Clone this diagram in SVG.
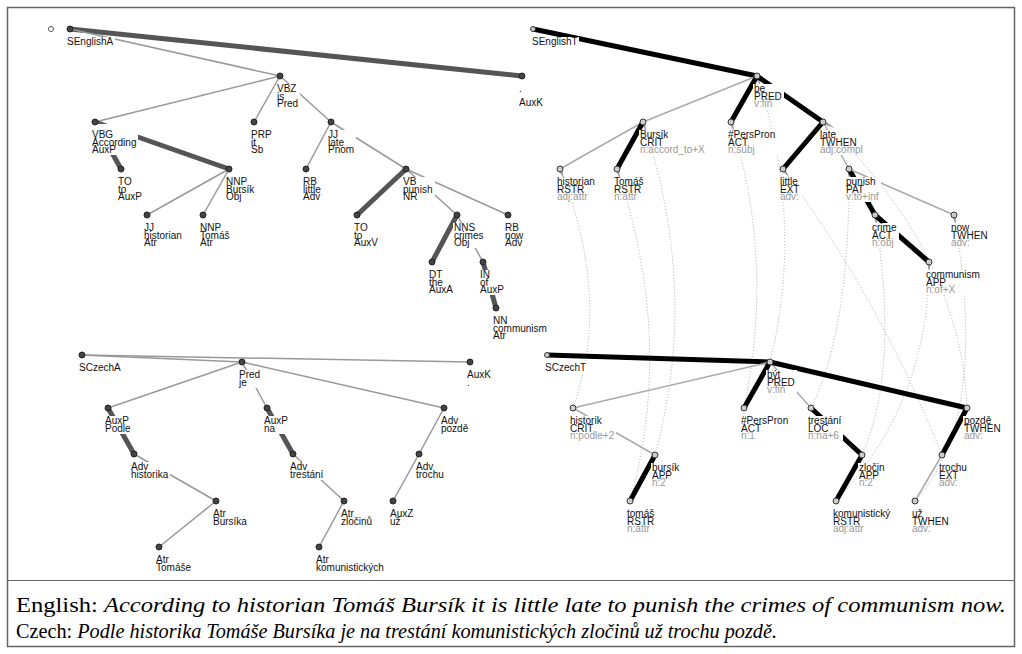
<svg xmlns="http://www.w3.org/2000/svg" width="1022" height="654" viewBox="0 0 1022 654">
<style>
.ae{stroke:#999;stroke-width:1.5;fill:none}
.aet{stroke:#555;stroke-width:5;fill:none}
.te{stroke:#aaa;stroke-width:1.5;fill:none}
.tet{stroke:#000;stroke-width:5;fill:none}
.al{stroke:#aaa;stroke-width:1;stroke-dasharray:1 2;fill:none}
.w{fill:#999}
.an{fill:#444;stroke:#222;stroke-width:1}
.tn{fill:#ccc;stroke:#333;stroke-width:1}
.bg{fill:#fff}
.l{font-family:"Liberation Sans",Arial,sans-serif;font-size:10px;fill:#111}
.g{fill:#999}
.cap{font-family:"Liberation Serif","Times New Roman",serif;font-size:20px;fill:#000}
</style>
<rect x="7.5" y="7.5" width="1007" height="639" fill="#fff" stroke="#666" stroke-width="1.5"/>
<line x1="7.5" y1="580.5" x2="1014.5" y2="580.5" stroke="#666" stroke-width="1"/>
<g id="connectors">
<!-- alignment -->
<path class="al" d="M560,169 Q612,300 573,408"/>
<path class="al" d="M617,169 Q675,340 630,501"/>
<path class="al" d="M643,122 Q700,290 655,455"/>
<path class="al" d="M731,122 Q775,260 744,408"/>
<path class="al" d="M757,76 Q805,220 770,362"/>
<path class="al" d="M783,169 Q880,300 942,455"/>
<path class="al" d="M823,122 Q960,250 967,408"/>
<path class="al" d="M849,169 Q850,330 811,408"/>
<path class="al" d="M875,215 Q900,370 862,455"/>
<path class="al" d="M929,262 Q930,400 836,501"/>
<path class="al" d="M954,215 Q990,420 915,501"/>
<polygon class="w" points="561.9,168.3 558.1,169.7 563.7,178.3"/>
<polygon class="w" points="618.9,168.4 615.1,169.6 620.2,178.5"/>
<polygon class="w" points="644.9,121.4 641.1,122.6 646.2,131.5"/>
<polygon class="w" points="732.9,121.4 729.1,122.6 734,131.5"/>
<polygon class="w" points="758.9,75.4 755.1,76.6 760.2,85.5"/>
<polygon class="w" points="784.6,167.8 781.4,170.2 789,177"/>
<polygon class="w" points="823.9,120.2 822.1,123.8 834.7,127.9"/>
<polygon class="w" points="851,169 847,169 849,179"/>
<polygon class="w" points="877,214.7 873,215.3 876.6,224.9"/>
<polygon class="w" points="931,262 927,262 929,272"/>
<polygon class="w" points="956,214.7 952,215.3 955.7,224.8"/>
<!-- English a-tree -->
<line class="aet" x1="70" y1="29" x2="522" y2="76"/>
<line class="ae" x1="70" y1="29" x2="280" y2="76"/>
<line class="ae" x1="280" y1="76" x2="95" y2="122"/>
<line class="ae" x1="280" y1="76" x2="254" y2="122"/>
<line class="ae" x1="280" y1="76" x2="331" y2="122"/>
<line class="aet" x1="95" y1="122" x2="121" y2="169"/>
<line class="aet" x1="95" y1="122" x2="229" y2="169"/>
<line class="ae" x1="229" y1="169" x2="147" y2="215"/>
<line class="ae" x1="229" y1="169" x2="203" y2="215"/>
<line class="ae" x1="331" y1="122" x2="306" y2="169"/>
<line class="ae" x1="331" y1="122" x2="406" y2="169"/>
<line class="aet" x1="406" y1="169" x2="357" y2="215"/>
<line class="ae" x1="406" y1="169" x2="457" y2="215"/>
<line class="ae" x1="406" y1="169" x2="508" y2="215"/>
<line class="aet" x1="457" y1="215" x2="432" y2="262"/>
<line class="ae" x1="457" y1="215" x2="483" y2="262"/>
<line class="aet" x1="483" y1="262" x2="496" y2="308"/>
<!-- Czech a-tree -->
<line class="ae" x1="82" y1="355" x2="242" y2="362"/>
<line class="ae" x1="82" y1="355" x2="470" y2="362"/>
<line class="ae" x1="242" y1="362" x2="108" y2="408"/>
<line class="ae" x1="242" y1="362" x2="267" y2="408"/>
<line class="ae" x1="242" y1="362" x2="444" y2="408"/>
<line class="aet" x1="108" y1="408" x2="134" y2="454"/>
<line class="ae" x1="134" y1="454" x2="216" y2="501"/>
<line class="ae" x1="216" y1="501" x2="159" y2="547"/>
<line class="aet" x1="267" y1="408" x2="293" y2="454"/>
<line class="ae" x1="293" y1="454" x2="344" y2="501"/>
<line class="ae" x1="344" y1="501" x2="319" y2="547"/>
<line class="ae" x1="444" y1="408" x2="419" y2="454"/>
<line class="ae" x1="419" y1="454" x2="393" y2="501"/>
<!-- English t-tree -->
<line class="tet" x1="533" y1="29" x2="757" y2="76"/>
<line class="te" x1="757" y1="76" x2="643" y2="122"/>
<line class="tet" x1="757" y1="76" x2="731" y2="122"/>
<line class="tet" x1="757" y1="76" x2="823" y2="122"/>
<line class="te" x1="643" y1="122" x2="560" y2="169"/>
<line class="tet" x1="643" y1="122" x2="617" y2="169"/>
<line class="tet" x1="823" y1="122" x2="783" y2="169"/>
<line class="te" x1="823" y1="122" x2="849" y2="169"/>
<line class="tet" x1="849" y1="169" x2="875" y2="215"/>
<line class="te" x1="849" y1="169" x2="954" y2="215"/>
<line class="tet" x1="875" y1="215" x2="929" y2="262"/>
<!-- Czech t-tree -->
<line class="tet" x1="547" y1="355" x2="770" y2="362"/>
<line class="te" x1="770" y1="362" x2="573" y2="408"/>
<line class="tet" x1="770" y1="362" x2="744" y2="408"/>
<line class="te" x1="770" y1="362" x2="811" y2="408"/>
<line class="tet" x1="770" y1="362" x2="967" y2="408"/>
<line class="te" x1="573" y1="408" x2="655" y2="455"/>
<line class="tet" x1="655" y1="455" x2="630" y2="501"/>
<line class="tet" x1="811" y1="408" x2="862" y2="455"/>
<line class="tet" x1="862" y1="455" x2="836" y2="501"/>
<line class="tet" x1="967" y1="408" x2="942" y2="455"/>
<line class="te" x1="942" y1="455" x2="915" y2="501"/>
</g>

<!-- English a-tree nodes -->
<g id="a-root"><circle cx="51" cy="29" r="2.5" fill="#fff" stroke="#555" stroke-width="1"/></g>
<g id="a-SEnglishA"><rect class="bg" x="66" y="37" width="49" height="11"/><circle class="an" cx="70" cy="29" r="3"/><text class="l" x="67" y="45">SEnglishA</text></g>
<g id="a-VBZ"><rect class="bg" x="276" y="84" width="24" height="25"/><circle class="an" cx="280" cy="76" r="3"/><text class="l" x="277" y="92">VBZ<tspan x="277" y="99.5">is</tspan><tspan x="277" y="107">Pred</tspan></text></g>
<g id="a-PRP"><rect class="bg" x="250" y="130" width="24" height="25"/><circle class="an" cx="254" cy="122" r="3"/><text class="l" x="251" y="138">PRP<tspan x="251" y="145.5">it</tspan><tspan x="251" y="153">Sb</tspan></text></g>
<g id="a-JJ-late"><rect class="bg" x="327" y="130" width="29" height="25"/><circle class="an" cx="331" cy="122" r="3"/><text class="l" x="328" y="138">JJ<tspan x="328" y="145.5">late</tspan><tspan x="328" y="153">Pnom</tspan></text></g>
<g id="a-VBG"><rect class="bg" x="91" y="124" width="47" height="31"/><circle class="an" cx="95" cy="122" r="3"/><text class="l" x="92" y="138">VBG<tspan x="92" y="145.5">According</tspan><tspan x="92" y="153">AuxP</tspan></text></g>
<g id="a-TO-to-AuxP"><rect class="bg" x="117" y="177" width="27" height="25"/><circle class="an" cx="121" cy="169" r="3"/><text class="l" x="118" y="185">TO<tspan x="118" y="192.5">to</tspan><tspan x="118" y="200">AuxP</tspan></text></g>
<g id="a-NNP-Bursik"><rect class="bg" x="225" y="177" width="31" height="25"/><circle class="an" cx="229" cy="169" r="3"/><text class="l" x="226" y="185">NNP<tspan x="226" y="192.5">Bursík</tspan><tspan x="226" y="200">Obj</tspan></text></g>
<g id="a-JJ-historian"><rect class="bg" x="143" y="223" width="41" height="25"/><circle class="an" cx="147" cy="215" r="3"/><text class="l" x="144" y="231">JJ<tspan x="144" y="238.5">historian</tspan><tspan x="144" y="246">Atr</tspan></text></g>
<g id="a-NNP-Tomas"><rect class="bg" x="199" y="223" width="34" height="25"/><circle class="an" cx="203" cy="215" r="3"/><text class="l" x="200" y="231">NNP<tspan x="200" y="238.5">Tomáš</tspan><tspan x="200" y="246">Atr</tspan></text></g>
<g id="a-RB-little"><rect class="bg" x="302" y="177" width="21" height="25"/><circle class="an" cx="306" cy="169" r="3"/><text class="l" x="303" y="185">RB<tspan x="303" y="192.5">little</tspan><tspan x="303" y="200">Adv</tspan></text></g>
<g id="a-VB-punish"><rect class="bg" x="402" y="177" width="33" height="25"/><circle class="an" cx="406" cy="169" r="3"/><text class="l" x="403" y="185">VB<tspan x="403" y="192.5">punish</tspan><tspan x="403" y="200">NR</tspan></text></g>
<g id="a-TO-to-AuxV"><rect class="bg" x="353" y="223" width="27" height="25"/><circle class="an" cx="357" cy="215" r="3"/><text class="l" x="354" y="231">TO<tspan x="354" y="238.5">to</tspan><tspan x="354" y="246">AuxV</tspan></text></g>
<g id="a-NNS-crimes"><rect class="bg" x="453" y="223" width="33" height="25"/><circle class="an" cx="457" cy="215" r="3"/><text class="l" x="454" y="231">NNS<tspan x="454" y="238.5">crimes</tspan><tspan x="454" y="246">Obj</tspan></text></g>
<g id="a-RB-now"><rect class="bg" x="504" y="223" width="22" height="25"/><circle class="an" cx="508" cy="215" r="3"/><text class="l" x="505" y="231">RB<tspan x="505" y="238.5">now</tspan><tspan x="505" y="246">Adv</tspan></text></g>
<g id="a-DT-the"><rect class="bg" x="428" y="270" width="27" height="25"/><circle class="an" cx="432" cy="262" r="3"/><text class="l" x="429" y="278">DT<tspan x="429" y="285.5">the</tspan><tspan x="429" y="293">AuxA</tspan></text></g>
<g id="a-IN-of"><rect class="bg" x="479" y="270" width="27" height="25"/><circle class="an" cx="483" cy="262" r="3"/><text class="l" x="480" y="278">IN<tspan x="480" y="285.5">of</tspan><tspan x="480" y="293">AuxP</tspan></text></g>
<g id="a-NN-communism"><rect class="bg" x="492" y="316" width="57" height="25"/><circle class="an" cx="496" cy="308" r="3"/><text class="l" x="493" y="324">NN<tspan x="493" y="331.5">communism</tspan><tspan x="493" y="339">Atr</tspan></text></g>
<g id="a-AuxK"><rect class="bg" x="518" y="84" width="27" height="25"/><circle class="an" cx="522" cy="76" r="3"/><text class="l" x="519" y="92">.<tspan x="519" y="106">AuxK</tspan></text></g>

<!-- Czech a-tree nodes -->
<g id="c-SCzechA"><rect class="bg" x="78" y="363" width="45" height="11"/><circle class="an" cx="82" cy="355" r="3"/><text class="l" x="79" y="371">SCzechA</text></g>
<g id="c-Pred-je"><rect class="bg" x="238" y="370" width="24" height="18"/><circle class="an" cx="242" cy="362" r="3"/><text class="l" x="239" y="378">Pred<tspan x="239" y="385.5">je</tspan></text></g>
<g id="c-AuxK"><rect class="bg" x="466" y="370" width="27" height="18"/><circle class="an" cx="470" cy="362" r="3"/><text class="l" x="467" y="378">AuxK<tspan x="467" y="385.5">.</tspan></text></g>
<g id="c-AuxP-Podle"><rect class="bg" x="104" y="416" width="28" height="18"/><circle class="an" cx="108" cy="408" r="3"/><text class="l" x="105" y="424">AuxP<tspan x="105" y="431.5">Podle</tspan></text></g>
<g id="c-AuxP-na"><rect class="bg" x="263" y="416" width="27" height="18"/><circle class="an" cx="267" cy="408" r="3"/><text class="l" x="264" y="424">AuxP<tspan x="264" y="431.5">na</tspan></text></g>
<g id="c-Adv-pozde"><rect class="bg" x="440" y="416" width="30" height="18"/><circle class="an" cx="444" cy="408" r="3"/><text class="l" x="441" y="424">Adv<tspan x="441" y="431.5">pozdě</tspan></text></g>
<g id="c-Adv-historika"><rect class="bg" x="130" y="462" width="40" height="18"/><circle class="an" cx="134" cy="454" r="3"/><text class="l" x="131" y="470">Adv<tspan x="131" y="477.5">historika</tspan></text></g>
<g id="c-Adv-trestani"><rect class="bg" x="289" y="462" width="36" height="18"/><circle class="an" cx="293" cy="454" r="3"/><text class="l" x="290" y="470">Adv<tspan x="290" y="477.5">trestání</tspan></text></g>
<g id="c-Adv-trochu"><rect class="bg" x="415" y="462" width="31" height="18"/><circle class="an" cx="419" cy="454" r="3"/><text class="l" x="416" y="470">Adv<tspan x="416" y="477.5">trochu</tspan></text></g>
<g id="c-Atr-Bursika"><rect class="bg" x="212" y="509" width="37" height="18"/><circle class="an" cx="216" cy="501" r="3"/><text class="l" x="213" y="517">Atr<tspan x="213" y="524.5">Bursíka</tspan></text></g>
<g id="c-Atr-zlocinu"><rect class="bg" x="340" y="509" width="34" height="18"/><circle class="an" cx="344" cy="501" r="3"/><text class="l" x="341" y="517">Atr<tspan x="341" y="524.5">zločinů</tspan></text></g>
<g id="c-AuxZ-uz"><rect class="bg" x="389" y="509" width="26" height="18"/><circle class="an" cx="393" cy="501" r="3"/><text class="l" x="390" y="517">AuxZ<tspan x="390" y="524.5">už</tspan></text></g>
<g id="c-Atr-Tomase"><rect class="bg" x="155" y="555" width="39" height="18"/><circle class="an" cx="159" cy="547" r="3"/><text class="l" x="156" y="563">Atr<tspan x="156" y="570.5">Tomáše</tspan></text></g>
<g id="c-Atr-komunistickych"><rect class="bg" x="315" y="555" width="71" height="18"/><circle class="an" cx="319" cy="547" r="3"/><text class="l" x="316" y="563">Atr<tspan x="316" y="570.5">komunistických</tspan></text></g>

<!-- English t-tree nodes -->
<g id="t-SEnglishT"><rect class="bg" x="531" y="37" width="48" height="11"/><circle class="tn" cx="533" cy="29" r="2.5"/><text class="l" x="532" y="45">SEnglishT</text></g>
<g id="t-be"><rect class="bg" x="753" y="84" width="31" height="25"/><circle class="tn" cx="757" cy="76" r="3"/><text class="l" x="754" y="92">be<tspan x="754" y="99.5">PRED</tspan><tspan class="g" x="754" y="107">v:fin</tspan></text></g>
<g id="t-Bursik"><rect class="bg" x="639" y="130" width="68" height="25"/><circle class="tn" cx="643" cy="122" r="3"/><text class="l" x="640" y="138">Bursík<tspan x="640" y="145.5">CRIT</tspan><tspan class="g" x="640" y="153">n:accord_to+X</tspan></text></g>
<g id="t-PersPron-en"><rect class="bg" x="727" y="130" width="50" height="25"/><circle class="tn" cx="731" cy="122" r="3"/><text class="l" x="728" y="138">#PersPron<tspan x="728" y="145.5">ACT</tspan><tspan class="g" x="728" y="153">n:subj</tspan></text></g>
<g id="t-late"><rect class="bg" x="819" y="130" width="46" height="25"/><circle class="tn" cx="823" cy="122" r="3"/><text class="l" x="820" y="138">late<tspan x="820" y="145.5">TWHEN</tspan><tspan class="g" x="820" y="153">adj:compl</tspan></text></g>
<g id="t-historian"><rect class="bg" x="556" y="177" width="41" height="25"/><circle class="tn" cx="560" cy="169" r="3"/><text class="l" x="557" y="185">historian<tspan x="557" y="192.5">RSTR</tspan><tspan class="g" x="557" y="200">adj:attr</tspan></text></g>
<g id="t-Tomas"><rect class="bg" x="613" y="177" width="34" height="25"/><circle class="tn" cx="617" cy="169" r="3"/><text class="l" x="614" y="185">Tomáš<tspan x="614" y="192.5">RSTR</tspan><tspan class="g" x="614" y="200">n:attr</tspan></text></g>
<g id="t-little"><rect class="bg" x="779" y="177" width="23" height="25"/><circle class="tn" cx="783" cy="169" r="3"/><text class="l" x="780" y="185">little<tspan x="780" y="192.5">EXT</tspan><tspan class="g" x="780" y="200">adv:</tspan></text></g>
<g id="t-punish"><rect class="bg" x="845" y="177" width="36" height="25"/><circle class="tn" cx="849" cy="169" r="3"/><text class="l" x="846" y="185">punish<tspan x="846" y="192.5">PAT</tspan><tspan class="g" x="846" y="200">v:to+inf</tspan></text></g>
<g id="t-crime"><rect class="bg" x="871" y="223" width="28" height="25"/><circle class="tn" cx="875" cy="215" r="3"/><text class="l" x="872" y="231">crime<tspan x="872" y="238.5">ACT</tspan><tspan class="g" x="872" y="246">n:obj</tspan></text></g>
<g id="t-now"><rect class="bg" x="950" y="223" width="40" height="25"/><circle class="tn" cx="954" cy="215" r="3"/><text class="l" x="951" y="231">now<tspan x="951" y="238.5">TWHEN</tspan><tspan class="g" x="951" y="246">adv:</tspan></text></g>
<g id="t-communism"><rect class="bg" x="925" y="270" width="57" height="25"/><circle class="tn" cx="929" cy="262" r="3"/><text class="l" x="926" y="278">communism<tspan x="926" y="285.5">APP</tspan><tspan class="g" x="926" y="293">n:of+X</tspan></text></g>

<!-- Czech t-tree nodes -->
<g id="t-SCzechT"><rect class="bg" x="544" y="363" width="44" height="11"/><circle class="tn" cx="547" cy="355" r="2.5"/><text class="l" x="545" y="371">SCzechT</text></g>
<g id="t-byt"><rect class="bg" x="766" y="370" width="31" height="25"/><circle class="tn" cx="770" cy="362" r="3"/><text class="l" x="767" y="378">být<tspan x="767" y="385.5">PRED</tspan><tspan class="g" x="767" y="393">v:fin</tspan></text></g>
<g id="t-historik"><rect class="bg" x="569" y="416" width="47" height="25"/><circle class="tn" cx="573" cy="408" r="3"/><text class="l" x="570" y="424">historik<tspan x="570" y="431.5">CRIT</tspan><tspan class="g" x="570" y="439">n:podle+2</tspan></text></g>
<g id="t-PersPron-cs"><rect class="bg" x="740" y="416" width="50" height="25"/><circle class="tn" cx="744" cy="408" r="3"/><text class="l" x="741" y="424">#PersPron<tspan x="741" y="431.5">ACT</tspan><tspan class="g" x="741" y="439">n:1</tspan></text></g>
<g id="t-trestani"><rect class="bg" x="807" y="416" width="36" height="25"/><circle class="tn" cx="811" cy="408" r="3"/><text class="l" x="808" y="424">trestání<tspan x="808" y="431.5">LOC</tspan><tspan class="g" x="808" y="439">n:na+6</tspan></text></g>
<g id="t-pozde"><rect class="bg" x="963" y="416" width="40" height="25"/><circle class="tn" cx="967" cy="408" r="3"/><text class="l" x="964" y="424">pozdě<tspan x="964" y="431.5">TWHEN</tspan><tspan class="g" x="964" y="439">adv:</tspan></text></g>
<g id="t-bursik"><rect class="bg" x="651" y="463" width="30" height="25"/><circle class="tn" cx="655" cy="455" r="3"/><text class="l" x="652" y="471">bursík<tspan x="652" y="478.5">APP</tspan><tspan class="g" x="652" y="486">n:2</tspan></text></g>
<g id="t-zlocin"><rect class="bg" x="858" y="463" width="29" height="25"/><circle class="tn" cx="862" cy="455" r="3"/><text class="l" x="859" y="471">zločin<tspan x="859" y="478.5">APP</tspan><tspan class="g" x="859" y="486">n:2</tspan></text></g>
<g id="t-trochu"><rect class="bg" x="938" y="463" width="31" height="25"/><circle class="tn" cx="942" cy="455" r="3"/><text class="l" x="939" y="471">trochu<tspan x="939" y="478.5">EXT</tspan><tspan class="g" x="939" y="486">adv:</tspan></text></g>
<g id="t-tomas"><rect class="bg" x="626" y="509" width="34" height="25"/><circle class="tn" cx="630" cy="501" r="3"/><text class="l" x="627" y="517">tomáš<tspan x="627" y="524.5">RSTR</tspan><tspan class="g" x="627" y="532">n:attr</tspan></text></g>
<g id="t-komunisticky"><rect class="bg" x="832" y="509" width="60" height="25"/><circle class="tn" cx="836" cy="501" r="3"/><text class="l" x="833" y="517">komunistický<tspan x="833" y="524.5">RSTR</tspan><tspan class="g" x="833" y="532">adj:attr</tspan></text></g>
<g id="t-uz"><rect class="bg" x="911" y="509" width="40" height="25"/><circle class="tn" cx="915" cy="501" r="3"/><text class="l" x="912" y="517">už<tspan x="912" y="524.5">TWHEN</tspan><tspan class="g" x="912" y="532">adv:</tspan></text></g>

<g id="caption">
<text class="cap" x="16" y="612" textLength="990" lengthAdjust="spacingAndGlyphs">English: <tspan font-style="italic">According to historian Tomáš Bursík it is little late to punish the crimes of communism now.</tspan></text>
<text class="cap" x="16" y="638" textLength="761" lengthAdjust="spacingAndGlyphs">Czech: <tspan font-style="italic">Podle historika Tomáše Bursíka je na trestání komunistických zločinů už trochu pozdě.</tspan></text>
</g>
</svg>
